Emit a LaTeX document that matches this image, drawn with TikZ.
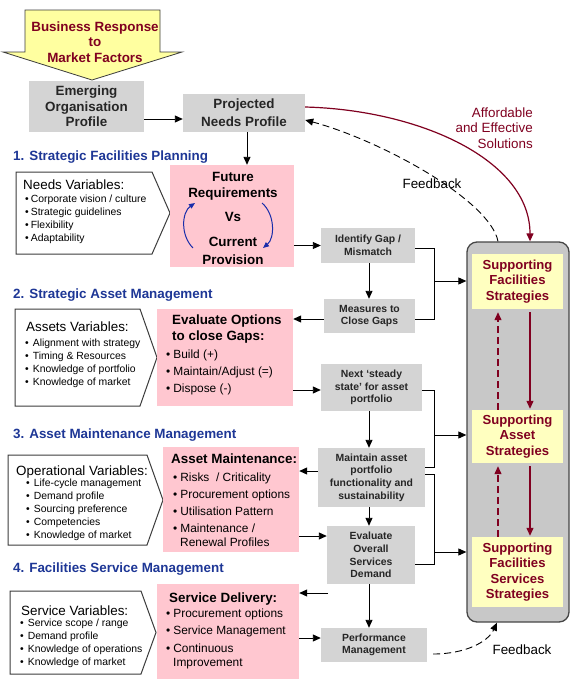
\documentclass[tikz,border=0pt]{standalone}
\usepackage{fontspec}
\setmainfont{Liberation Sans}
\usetikzlibrary{arrows.meta, positioning, calc}
\definecolor{boxgray}{RGB}{212,212,212}
\definecolor{contgray}{RGB}{200,200,200}
\definecolor{contedge}{RGB}{70,70,70}
\definecolor{pinkfill}{RGB}{255,199,208}
\definecolor{suppyellow}{RGB}{255,255,192}
\definecolor{arrowyellow}{RGB}{255,255,160}
\definecolor{darkred}{RGB}{128,0,32}
\definecolor{headblue}{RGB}{30,55,150}
\definecolor{loopblue}{RGB}{25,45,170}
\definecolor{boxtext}{RGB}{38,38,38}
\definecolor{chevedge}{RGB}{60,60,60}
\tikzset{
  graybox/.style={fill=boxgray, text=boxtext, align=center, inner sep=0pt,
                  font=\bfseries\fontsize{13.4}{15.5}\selectfont},
  smallbox/.style={graybox, font=\bfseries\fontsize{10.4}{12.6}\selectfont},
  pinkbox/.style={fill=pinkfill, inner sep=0pt},
  suppbox/.style={fill=suppyellow, text=darkred, align=center, inner sep=0pt,
                  font=\bfseries\fontsize{13.1}{15.5}\selectfont},
  heading/.style={anchor=base west, text=headblue, inner sep=0pt,
                  font=\bfseries\fontsize{13.4}{16}\selectfont},
  vartitle/.style={anchor=base west, inner sep=0pt, font=\fontsize{13.4}{16}\selectfont},
  varitem/.style={anchor=base west, inner sep=0pt, font=\fontsize{10.4}{13}\selectfont},
  pinktitle/.style={anchor=base west, inner sep=0pt, font=\bfseries\fontsize{13.4}{16}\selectfont},
  pinkitem/.style={anchor=base west, inner sep=0pt, font=\fontsize{11.9}{14}\selectfont},
  chevron/.style={draw=chevedge, line width=1pt, fill=white},
  conn/.style={line width=0.9pt},
  arr/.style={conn, -{Triangle[length=8pt,width=7pt]}},
  fbarr/.style={arr, dash pattern=on 7pt off 4pt},
  redarr/.style={-{Triangle[length=8pt,width=7pt]}, draw=darkred, line width=1.2pt},
  loop/.style={-{Triangle[length=6pt,width=5pt]}, draw=loopblue, line width=1pt},
  plain/.style={font=\fontsize{13.4}{15.3}\selectfont, inner sep=0pt}
}

\begin{document}
\begin{tikzpicture}[x=1pt,y=-1pt]
\path[use as bounding box, fill=white] (0,0) rectangle (573,686);

% ── Market factors arrow ─────────────────────────────────────────────────────
\draw[fill=arrowyellow, draw=chevedge, line width=0.8pt]
     (25,10) -- (160,10) -- (160,52) -- (182,52) -- (92,80) -- (3,52) -- (25,52) -- cycle;
\node[font=\bfseries\fontsize{13.4}{15.5}\selectfont, text=darkred, align=center]
     (market) at (95,42) {Business Response\\to\\Market Factors};

% ── Profiles ────────────────────────────────────────────────────────────────
\node[graybox, minimum width=115pt, minimum height=51pt] (emerging) at (86.5,106.5)
     {Emerging\\Organisation\\Profile};
\node[graybox, minimum width=122pt, minimum height=38pt,
      font=\bfseries\fontsize{13.4}{18}\selectfont] (projected) at (244,113)
     {Projected\\Needs Profile};

% ── Section headings ────────────────────────────────────────────────────────
\foreach \n/\t/\y in {sec1/1. Strategic Facilities Planning/160,
                      sec2/2. Strategic Asset Management/298,
                      sec3/3. Asset Maintenance Management/438,
                      sec4/4. Facilities Service Management/572}
  \node[heading] (\n) at (13,\y) {\t};

% ── Variable chevrons ───────────────────────────────────────────────────────
\foreach \xa/\xb/\xc/\ya/\yb in {16/152/170/172/254, 15/140/157/309/406,
                                 8/147/163/455/545, 10/141/156/591/674}
  \draw[chevron] (\xa,\ya) -- (\xb,\ya) -- (\xc,{(\ya+\yb)/2})
                 -- (\xb,\yb) -- (\xa,\yb) -- cycle;

% Needs
\node[vartitle] (needstitle) at (23,189) {Needs Variables:};
\foreach \t [count=\i from 0] in {Corporate vision / culture, Strategic guidelines,
                                  Flexibility, Adaptability}
  \node[varitem] (needs\i) at (25,{202.7+13*\i}) {\textbullet\hspace{2pt}\t};

% Assets
\node[vartitle] (assetstitle) at (26,331) {Assets Variables:};
\foreach \t [count=\i from 0] in {Alignment with strategy, Timing \& Resources,
                                  Knowledge of portfolio, Knowledge of market}
  \node[varitem] (assets\i) at (25,{346.7+13*\i}) {\textbullet\hspace{4pt}\t};

% Operational
\node[vartitle] (opertitle) at (16,475) {Operational Variables:};
\foreach \t [count=\i from 0] in {Life-cycle management, Demand profile,
                                  Sourcing preference, Competencies, Knowledge of market}
  \node[varitem] (oper\i) at (26,{486.7+13*\i}) {\textbullet\hspace{4pt}\t};

% Service
\node[vartitle] (servtitle) at (21,615) {Service Variables:};
\foreach \t [count=\i from 0] in {Service scope / range, Demand profile,
                                  Knowledge of operations, Knowledge of market}
  \node[varitem] (serv\i) at (20,{626.7+12.8*\i}) {\textbullet\hspace{4pt}\t};

% ── Pink option boxes ───────────────────────────────────────────────────────
\node[pinkbox, minimum width=124pt, minimum height=102pt] (future) at (232,216) {};
\node[pinkbox, minimum width=136pt, minimum height=97pt] (evalopt) at (225,357.5) {};
\node[pinkbox, minimum width=136pt, minimum height=105pt] (assetmaint) at (231,499.5) {};
\node[pinkbox, minimum width=142pt, minimum height=95pt] (servdel) at (228,631.5) {};

% Future vs current
\foreach \n/\t/\y in {ft1/Future/177, ft2/Requirements/193, ft3/Vs/217,
                      ft4/Current/242, ft5/Provision/260}
  \node[pinktitle, anchor=base] (\n) at (233,{\y+4.8}) {\t};
\draw[loop] (193,248) .. controls (180,235) and (182,212) .. (195,203);
\draw[loop] (262,203) .. controls (275,214) and (275,238) .. (263,248);

% Evaluate options
\node[pinktitle] (opttitle1) at (172,324) {Evaluate Options};
\node[pinktitle] (opttitle2) at (172,340) {to close Gaps:};
\foreach \t [count=\i from 0] in {{Build (+)}, {Maintain/Adjust (=)}, {Dispose (-)}}
  \node[pinkitem] (optitem\i) at (166,{358.3+17*\i}) {\textbullet\hspace{3pt}\t};

% Asset maintenance
\node[pinktitle] (maintitle) at (171,463) {Asset Maintenance:};
\foreach \t [count=\i from 0] in {Risks\ \ / Criticality, Procurement options,
                                  Utilisation Pattern, Maintenance /}
  \node[pinkitem] (mitem\i) at (173,{481.3+17*\i}) {\textbullet\hspace{3pt}\t};
\node[pinkitem] (mitem4) at (180,546.3) {Renewal Profiles};

% Service delivery
\node[pinktitle] (deltitle) at (169,602) {Service Delivery:};
\foreach \t [count=\i from 0] in {Procurement options, Service Management, Continuous}
  \node[pinkitem] (ditem\i) at (166,{617.3+17.5*\i}) {\textbullet\hspace{3pt}\t};
\node[pinkitem] (ditem3) at (173,666.3) {Improvement};

% ── Process column ──────────────────────────────────────────────────────────
\coordinate (col) at (369,0);
\node[smallbox, minimum width=94pt, minimum height=35pt] (identify) at (368,245.5)
     {Identify Gap /\\Mismatch};
\node[smallbox, minimum width=91pt, minimum height=34pt] (measures) at (369.5,316)
     {Measures to\\Close Gaps};
\node[smallbox, minimum width=101pt, minimum height=47pt] (nextstate) at (371.5,387.5)
     {Next ‘steady\\state’ for asset\\portfolio};
\node[smallbox, minimum width=107pt, minimum height=59pt] (maintain) at (371.5,477.5)
     {Maintain asset\\portfolio\\functionality and\\sustainability};
\node[smallbox, minimum width=88pt, minimum height=58pt] (evaluate) at (371,555)
     {Evaluate\\Overall\\Services\\Demand};
\node[smallbox, minimum width=106pt, minimum height=34pt] (perform) at (374,645)
     {Performance\\Management};

% ── Supporting strategies ───────────────────────────────────────────────────
\node[draw=contedge, fill=contgray, line width=1.3pt, rounded corners=10pt,
      minimum width=102pt, minimum height=380pt] (suppcol) at (518,432) {};
\node[suppbox, minimum width=91pt, minimum height=55pt] (suppfac) at (517.5,281.5)
     {Supporting\\Facilities\\Strategies};
\node[suppbox, minimum width=91pt, minimum height=53pt] (suppasset) at (517.5,436.5)
     {Supporting\\Asset\\Strategies};
\node[suppbox, minimum width=91pt, minimum height=70pt] (suppserv) at (517.5,572)
     {Supporting\\Facilities\\Services\\Strategies};
\coordinate (upx) at (498,0);
\coordinate (downx) at (530,0);
\foreach \a/\b in {suppfac/suppasset, suppasset/suppserv} {
  \draw[redarr, dash pattern=on 7pt off 4pt, shorten >=3pt]
       (\b.north -| upx) -- (\a.south -| upx);
  \draw[redarr, shorten <=3pt, shorten >=1pt] (\a.south -| downx) -- (\b.north -| downx);
}

% ── Main flow ───────────────────────────────────────────────────────────────
\draw[arr] (emerging.east |- 0,119) -- (projected.west |- 0,119);
\draw[arr] (projected.south -| 247,0) -- (future.north -| 247,0);
\draw[arr] (future.east |- identify.west) -- (identify.west);
\draw[arr] (identify.south -| col) -- (measures.north -| col);
\draw[arr] (measures.west |- 0,319) -- (evalopt.east |- 0,319);
\draw[arr] (evalopt.east |- 0,390) -- (nextstate.west |- 0,390);
\draw[arr] (nextstate.south -| col) -- (maintain.north -| col);
\draw[arr] (maintain.west |- 0,471) -- (assetmaint.east |- 0,471);
\draw[arr] (maintain.south -| col) -- (evaluate.north -| col);
\draw[arr] (assetmaint.east |- 0,536) -- (evaluate.west |- 0,536);
\draw[arr] (evaluate.south -| col) -- (perform.north -| col);
\coordinate (demand) at (328,593);
\draw[arr] (demand) -- (servdel.east |- demand);
\draw[arr] (servdel.east |- 0,638) -- (perform.west |- 0,638);

% Brackets into the supporting column
\coordinate (spine1) at (434,281);
\coordinate (spine2) at (434,435);
\coordinate (spine3) at (434,552);
\draw[conn] (identify.east |- 0,248) -| (434,319) -- (measures.east |- 0,319);
\draw[conn] (nextstate.east |- 0,390) -| (434,467) -- (maintain.east |- 0,467);
\draw[conn] (maintain.east |- 0,474) -| (434,564) -- (evaluate.east |- 0,564);
\foreach \s in {spine1, spine2, spine3}
  \draw[arr] (\s) -- (\s -| suppcol.west);

% ── Feedback loops ──────────────────────────────────────────────────────────
\draw[redarr] (projected.east |- 0,107) .. controls (420,110) and (530,160)
      .. (suppcol.north -| downx);
\draw[fbarr] (suppcol.north -| upx) .. controls (490,200) and (380,140)
      .. (projected.east |- 0,120);
\draw[fbarr, shorten <=6pt] (perform.east |- 0,654) .. controls (465,654) and (488,642)
      .. (suppcol.south -| 497,0);
\node[plain] (fbtop) at (432,184) {Feedback};
\node[plain] (fbbottom) at (522,650) {Feedback};
\node[plain, text=darkred, align=right, anchor=east] (solutions) at (533,128)
     {Affordable\\and Effective\\Solutions};

\end{tikzpicture}
\end{document}
